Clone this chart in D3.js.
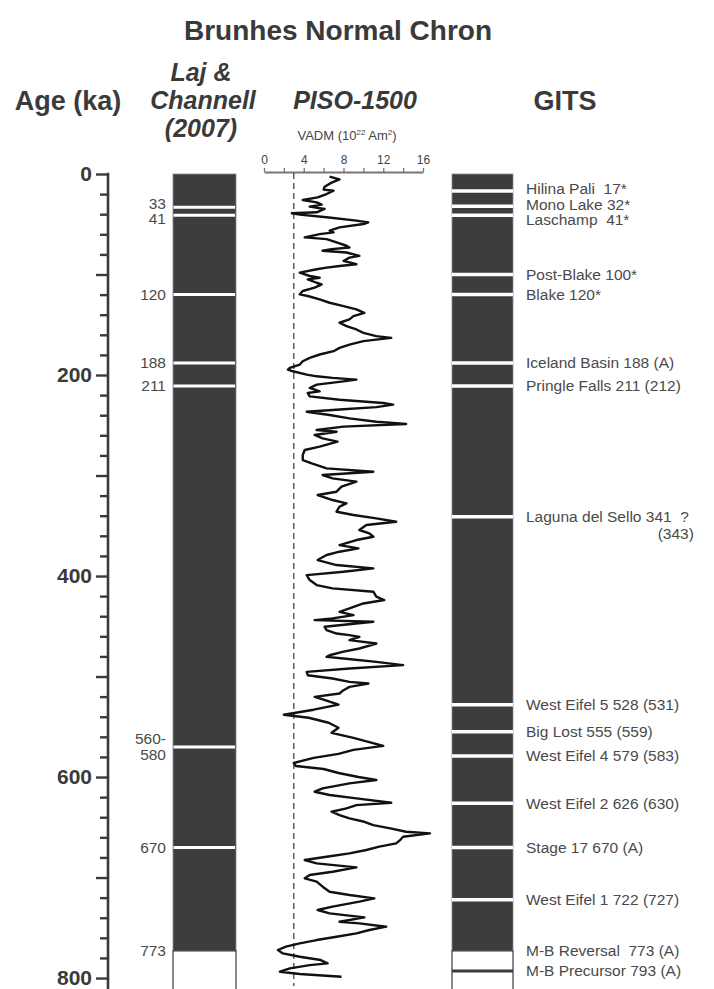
<!DOCTYPE html>
<html>
<head>
<meta charset="utf-8">
<script src="https://cdn.jsdelivr.net/npm/d3@7"></script>
<style>
  html, body { margin: 0; padding: 0; background: #fff; }
  svg { display: block; font-family: "Liberation Sans", Arial, Helvetica, sans-serif; }
  text { white-space: pre; }
</style>
</head>
<body>
<svg id="chart" width="714" height="989"></svg>
<script>
// ---- Age axis (ka) ----
const ageLabelTicks = [0, 200, 400, 600, 800];

// ---- VADM axis (10^22 Am^2) ----
const vadmLabelTicks = [0, 4, 8, 12, 16];
const vadmReference = 3;

// ---- Laj & Channell (2007) excursions ----
const lajAges = [33, 41, 120, 188, 211, 570, 670];
const lajLabels = ["33", "41", "120", "188", "211", "560-\n580", "670"];
const lajReversal = 773;
const lajReversalLabel = "773";

// ---- GITS excursions ----
const gitsAges = [17, 32, 41, 100, 120, 188, 211, 341, 528, 555, 579, 626, 670, 722];
const gitsLabels = [
  "Hilina Pali  17*", "Mono Lake 32*", "Laschamp  41*", "Post-Blake 100*", "Blake 120*",
  "Iceland Basin 188 (A)", "Pringle Falls 211 (212)", "Laguna del Sello 341  ?\n(343)",
  "West Eifel 5 528 (531)", "Big Lost 555 (559)", "West Eifel 4 579 (583)",
  "West Eifel 2 626 (630)", "Stage 17 670 (A)", "West Eifel 1 722 (727)"
];
const gitsReversal = 773;
const gitsReversalLabel = "M-B Reversal  773 (A)";
const gitsPrecursor = 793;
const gitsPrecursorLabel = "M-B Precursor 793 (A)";

// ---- PISO-1500 stack: age (ka) and VADM ----
const pisoAge = [
  2.7, 5.3, 8.6, 12.6, 15.5, 16.6, 19.9, 23.2, 25.9, 28.2, 30.5, 32.5, 34.8, 38.1, 39.1, 40.4,
  43.1, 46.4, 48.1, 49.8, 53.1, 56.4, 58.1, 59.8, 63.1, 64.8, 68.1, 71.4, 73.1, 74.8, 76.4, 78.1,
  81.5, 83.2, 86.5, 89.8, 91.5, 93.2, 94.8, 98.2, 101.5, 103.2, 104.8, 108.2, 109.8, 113.1, 116.4,
  119.8, 121.4, 124.8, 128.1, 131.4, 134.7, 138.1, 141.4, 144.7, 148.0, 151.4, 154.7, 158.0, 161.3,
  163.0, 166.3, 169.7, 173.0, 176.3, 179.6, 183.0, 186.3, 189.6, 192.9, 194.6, 196.3, 199.6, 201.3,
  202.9, 204.6, 206.3, 209.6, 212.9, 216.3, 217.9, 221.2, 224.6, 227.9, 229.5, 232.0, 234.0, 236.5,
  239.8, 243.1, 246.5, 248.8, 251.4, 254.7, 256.4, 259.7, 263.0, 266.3, 271.3, 274.6, 279.6, 284.6,
  287.9, 292.9, 296.2, 299.5, 302.8, 306.1, 311.1, 316.1, 319.4, 324.4, 327.7, 331.0, 336.0, 339.3,
  342.6, 346.0, 349.3, 354.2, 357.5, 360.9, 364.2, 369.2, 372.5, 375.8, 379.1, 384.1, 389.1, 392.4,
  395.7, 399.1, 404.0, 409.0, 412.3, 415.6, 420.6, 423.9, 427.3, 432.3, 435.6, 438.9, 442.2, 443.9,
  445.5, 450.5, 453.8, 457.2, 458.8, 460.5, 463.8, 467.2, 472.1, 475.5, 478.8, 480.4, 482.1, 485.4,
  488.7, 492.0, 495.4, 498.7, 502.0, 505.3, 507.0, 510.3, 513.6, 516.9, 520.2, 523.0, 528.0, 533.0,
  538.0, 541.0, 546.0, 551.0, 556.0, 561.0, 565.0, 569.0, 573.0, 577.0, 581.0, 586.0, 589.0, 592.0,
  596.0, 600.0, 603.0, 606.3, 611.3, 614.6, 617.9, 621.2, 625.6, 627.9, 631.2, 634.5, 637.8, 641.1,
  644.5, 647.8, 651.1, 654.4, 656.1, 659.4, 662.7, 666.0, 669.3, 672.6, 676.0, 679.3, 682.6, 685.9,
  689.9, 694.2, 697.5, 700.8, 704.1, 709.1, 714.1, 717.4, 720.7, 724.0, 729.0, 732.3, 735.7, 739.6,
  744.0, 745.6, 748.9, 752.2, 755.6, 758.9, 762.2, 765.5, 768.8, 772.1, 775.5, 778.8, 782.1, 785.4,
  787.1, 790.4, 793.7, 796.0, 798.7
];
const pisoVadm = [
  6.6, 7.6, 6.8, 6.1, 6.0, 7.0, 6.3, 5.4, 3.9, 5.3, 5.8, 4.6, 6.1, 5.3, 2.8, 3.6,
  6.3, 9.3, 10.5, 10.0, 7.6, 6.6, 7.0, 5.6, 4.1, 6.3, 7.3, 8.3, 8.6, 6.8, 5.9, 8.3,
  9.6, 8.6, 8.0, 9.3, 7.6, 6.3, 5.3, 3.6, 4.6, 5.6, 4.4, 5.3, 5.8, 5.1, 3.9,
  3.6, 4.4, 5.6, 6.6, 8.0, 9.3, 10.1, 9.0, 8.6, 7.6, 8.3, 9.3, 10.0, 11.3,
  12.8, 10.0, 8.6, 7.6, 7.0, 5.6, 4.6, 3.9, 3.6, 2.6, 2.4, 2.9, 4.3, 5.3,
  6.9, 9.3, 8.0, 5.3, 4.6, 5.6, 4.4, 4.6, 7.6, 12.0, 13.0, 11.3, 8.0, 4.3,
  6.6, 8.6, 11.3, 14.3, 8.0, 5.3, 7.3, 5.1, 5.9, 7.4, 5.6, 4.1, 3.9, 3.9,
  4.8, 6.3, 11.0, 5.9, 6.9, 9.3, 7.8, 7.3, 5.4, 6.9, 8.3, 7.6, 7.3, 9.0,
  11.3, 13.3, 10.3, 9.6, 10.6, 11.0, 9.3, 7.6, 9.5, 7.6, 6.3, 5.4, 7.3, 11.0,
  8.0, 4.3, 4.6, 5.3, 6.9, 11.0, 11.3, 12.1, 10.0, 8.6, 7.6, 9.0, 6.9, 5.1,
  11.0, 6.1, 6.3, 7.3, 8.6, 9.6, 8.6, 11.3, 9.6, 7.9, 6.6, 6.3, 8.0, 11.3,
  14.0, 8.6, 4.3, 4.4, 6.9, 8.6, 10.5, 8.6, 8.0, 7.6, 5.1, 6.0, 7.5, 5.0,
  2.0, 4.5, 6.5, 7.5, 6.8, 9.0, 10.5, 12.0, 9.0, 7.5, 5.0, 3.0, 3.2, 6.0,
  7.5, 9.5, 11.3, 8.6, 5.9, 5.1, 6.6, 9.3, 12.8, 9.3, 8.3, 6.8, 7.6, 8.6,
  10.1, 11.0, 12.7, 14.3, 16.7, 14.0, 13.7, 13.3, 11.6, 10.3, 8.6, 6.3, 4.1, 5.3,
  9.3, 6.9, 4.6, 4.1, 5.3, 5.9, 6.6, 8.6, 11.1, 9.6, 6.9, 5.4, 6.6, 10.1,
  7.6, 9.6, 12.3, 10.6, 9.3, 7.3, 5.3, 3.6, 2.2, 1.4, 1.9, 3.6, 5.7, 6.4,
  4.6, 2.6, 1.6, 3.6, 7.8
];

// ---- Layout ----
const svg = d3.select("#chart");
const ink = "#3a3a3a";
const barFill = "#3d3d3f";

const y = d3.scaleLinear().domain([0, 811]).range([174, 989.1]);
const x = d3.scaleLinear().domain([0, 16]).range([264, 423]);

const lajX0 = 173, lajX1 = 236;
const gitsX0 = 452, gitsX1 = 513;

// Headings
const head = svg.append("g").attr("fill", ink).attr("font-weight", "bold").attr("text-anchor", "middle");
head.append("text").attr("x", 338).attr("y", 40).attr("font-size", 28).text("Brunhes Normal Chron");
head.append("text").attr("x", 68).attr("y", 110).attr("font-size", 27).text("Age (ka)");
const laj = head.append("g").attr("font-style", "italic").attr("font-size", 25);
laj.append("text").attr("x", 201).attr("y", 81).text("Laj &");
laj.append("text").attr("x", 203).attr("y", 109).text("Channell");
laj.append("text").attr("x", 201).attr("y", 137).text("(2007)");
head.append("text").attr("x", 355).attr("y", 109).attr("font-size", 25).attr("font-style", "italic").text("PISO-1500");
head.append("text").attr("x", 565).attr("y", 110).attr("font-size", 27).text("GITS");

// VADM units label
const units = svg.append("text").attr("x", 347).attr("y", 140).attr("text-anchor", "middle")
  .attr("font-size", 13).attr("fill", "#444");
units.append("tspan").text("VADM (10");
units.append("tspan").attr("font-size", 8).attr("dy", -5).text("22");
units.append("tspan").attr("dy", 5).text(" Am");
units.append("tspan").attr("font-size", 8).attr("dy", -5).text("2");
units.append("tspan").attr("dy", 5).text(")");

// ---- Age axis ----
const ageAxis = d3.axisLeft(y)
  .tickValues(d3.range(0, 801, 20))
  .tickSize(8)
  .tickSizeOuter(0)
  .tickFormat(d => ageLabelTicks.includes(d) ? d : "");
const ag = svg.append("g").attr("transform", "translate(108,0)").call(ageAxis);
ag.select(".domain").remove();
ag.selectAll(".tick line")
  .attr("stroke", ink).attr("stroke-width", 2.4)
  .attr("x2", d => d % 100 === 0 ? -12 : -8);
ag.selectAll(".tick text")
  .attr("x", -16).attr("fill", ink)
  .attr("font-size", 21).attr("font-weight", "bold")
  .attr("font-family", "Liberation Sans, Arial, sans-serif");
svg.append("line").attr("x1", 108).attr("x2", 108)
  .attr("y1", y(0) - 1.2).attr("y2", 989)
  .attr("stroke", ink).attr("stroke-width", 2.6);

// ---- VADM axis ----
const vadmAxis = d3.axisTop(x)
  .tickValues(d3.range(0, 17, 2))
  .tickSize(4)
  .tickSizeOuter(0)
  .tickFormat(d => vadmLabelTicks.includes(d) ? d : "");
const vg = svg.append("g").attr("transform", "translate(0,172)").call(vadmAxis);
vg.select(".domain").attr("stroke", "#777").attr("stroke-width", 2);
vg.selectAll(".tick line").attr("stroke", "#777").attr("stroke-width", 1.3);
vg.selectAll(".tick text").attr("fill", "#444").attr("font-size", 12)
  .attr("font-family", "Liberation Sans, Arial, sans-serif").attr("y", -8);

// Reference level (dashed)
svg.append("line")
  .attr("x1", x(vadmReference)).attr("x2", x(vadmReference))
  .attr("y1", 173).attr("y2", 986)
  .attr("stroke", "#444").attr("stroke-width", 1.3)
  .attr("stroke-dasharray", "6,4");

// PISO-1500 curve
const piso = pisoAge.map((a, i) => ({ age: a, v: pisoVadm[i] }));
svg.append("path")
  .datum(piso)
  .attr("fill", "none")
  .attr("stroke", "#111")
  .attr("stroke-width", 2.4)
  .attr("stroke-linejoin", "round")
  .attr("d", d3.line().x(d => x(d.v)).y(d => y(d.age)));

// ---- helper: spread labels so they don't overlap ----
function spread(ys, gap) {
  const out = ys.slice();
  for (let k = 0; k < 80; k++) {
    for (let i = 1; i < out.length; i++) {
      const d = out[i] - out[i - 1];
      if (d < gap) {
        const m = (gap - d) / 2;
        out[i - 1] -= m;
        out[i] += m;
      }
    }
  }
  return out;
}

// ---- Laj & Channell column ----
const lajG = svg.append("g");
lajG.append("rect")
  .attr("x", lajX0).attr("y", y(0))
  .attr("width", lajX1 - lajX0).attr("height", y(lajReversal) - y(0))
  .attr("fill", barFill).attr("stroke", "#8a8a8a").attr("stroke-width", 0.8);
lajG.append("rect")
  .attr("x", lajX0).attr("y", y(lajReversal))
  .attr("width", lajX1 - lajX0).attr("height", 989 - y(lajReversal) + 2)
  .attr("fill", "#fff").attr("stroke", ink).attr("stroke-width", 1.2);
lajG.selectAll("line.ev").data(lajAges).join("line")
  .attr("class", "ev")
  .attr("x1", lajX0 + 0.5).attr("x2", lajX1 - 1)
  .attr("y1", d => y(d)).attr("y2", d => y(d))
  .attr("stroke", "#fff").attr("stroke-width", 3);

const lajYs = spread(lajAges.map(a => y(a)), 15.5);
lajLabels.forEach((lab, i) => {
  const lines = lab.split("\n");
  const t = lajG.append("text")
    .attr("x", 166).attr("text-anchor", "end")
    .attr("font-size", 15.5).attr("fill", "#4a4a4a");
  lines.forEach((ln, j) => {
    t.append("tspan").attr("x", 166)
      .attr("y", lajYs[i] + (j - (lines.length - 1) / 2) * 16)
      .attr("dy", "0.35em").text(ln);
  });
});
lajG.append("text").attr("x", 166).attr("y", y(lajReversal)).attr("dy", "0.35em")
  .attr("text-anchor", "end").attr("font-size", 15.5).attr("fill", "#4a4a4a")
  .text(lajReversalLabel);

// ---- GITS column ----
const gitsG = svg.append("g");
gitsG.append("rect")
  .attr("x", gitsX0).attr("y", y(0))
  .attr("width", gitsX1 - gitsX0).attr("height", y(gitsReversal) - y(0))
  .attr("fill", barFill).attr("stroke", "#8a8a8a").attr("stroke-width", 0.8);
gitsG.append("rect")
  .attr("x", gitsX0).attr("y", y(gitsReversal))
  .attr("width", gitsX1 - gitsX0).attr("height", 989 - y(gitsReversal) + 2)
  .attr("fill", "#fff").attr("stroke", ink).attr("stroke-width", 1.2);
gitsG.selectAll("line.ev").data(gitsAges).join("line")
  .attr("class", "ev")
  .attr("x1", gitsX0).attr("x2", gitsX1)
  .attr("y1", d => y(d)).attr("y2", d => y(d))
  .attr("stroke", "#fff").attr("stroke-width", 3.5);
gitsG.append("line")
  .attr("x1", gitsX0).attr("x2", gitsX1)
  .attr("y1", y(gitsPrecursor)).attr("y2", y(gitsPrecursor))
  .attr("stroke", ink).attr("stroke-width", 3);

const allGitsAges = gitsAges.concat([gitsReversal, gitsPrecursor]);
const allGitsLabels = gitsLabels.concat([gitsReversalLabel, gitsPrecursorLabel]);
const gitsYs = spread(allGitsAges.map(a => y(a)), 15.5);
allGitsLabels.forEach((lab, i) => {
  const lines = lab.split("\n");
  const t = gitsG.append("text").attr("font-size", 15.5).attr("fill", "#4a4a4a");
  const first = t.append("tspan").attr("x", 526).attr("y", gitsYs[i]).attr("dy", "0.35em").text(lines[0]);
  if (lines.length > 1) {
    const right = 526 + first.node().getComputedTextLength() + 5;
    gitsG.append("text").attr("font-size", 15.5).attr("fill", "#4a4a4a")
      .attr("text-anchor", "end").attr("x", right)
      .attr("y", gitsYs[i] + 17).attr("dy", "0.35em").text(lines[1]);
  }
});
</script>
</body>
</html>
